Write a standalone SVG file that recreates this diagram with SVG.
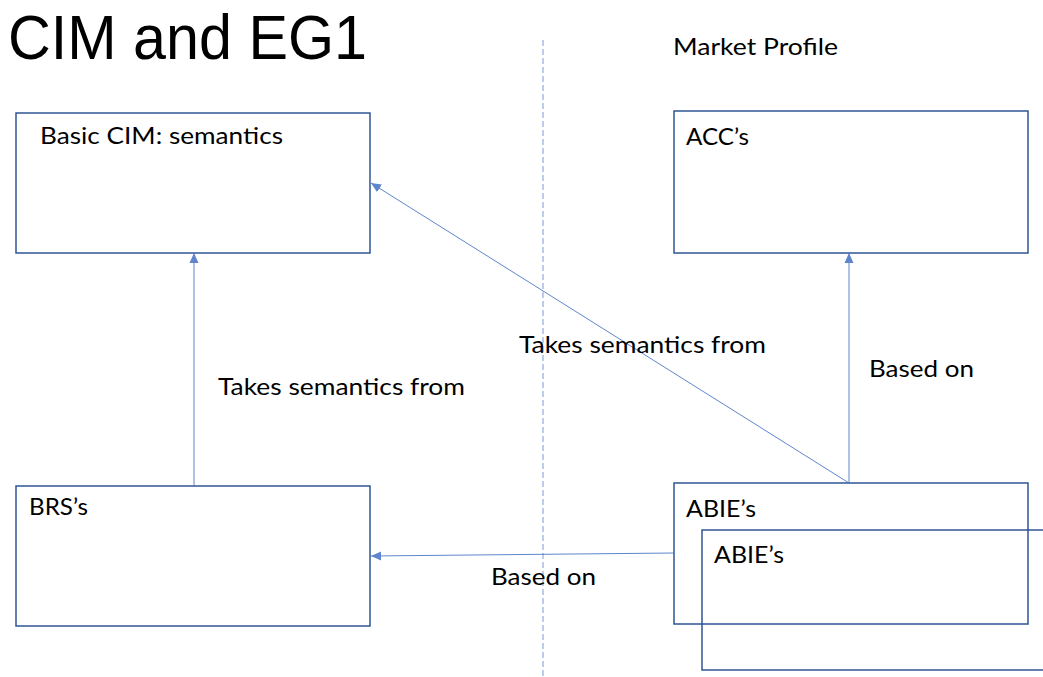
<svg xmlns="http://www.w3.org/2000/svg" width="1043" height="677" viewBox="0 0 1043 677">
<style>
.box{fill:none;stroke:#2F5597;stroke-width:1.5}
.conn{fill:none;stroke:#4472C4;stroke-width:1;opacity:0.85}
.lbl{font-family:Lato,"Open Sans","Liberation Sans",sans-serif;font-size:23px;fill:#000}
.title{font-family:"Liberation Sans",Arial,sans-serif;font-size:63px;fill:#000}
.div{stroke:#8FAADC;stroke-width:1.2;stroke-dasharray:6 3;fill:none}
</style>
<defs>
<marker id="ah" markerUnits="userSpaceOnUse" markerWidth="10" markerHeight="10" viewBox="0 0 10 10" refX="10" refY="5" orient="auto">
<path d="M0,0.5 L10,5 L0,9.5 Z" fill="#4472C4"/>
</marker>
</defs>
<rect width="1043" height="677" fill="#fff"/>
<text class="title" x="8" y="59" textLength="359" lengthAdjust="spacingAndGlyphs">CIM and EG1</text>
<line class="div" x1="543" y1="40" x2="543" y2="677"/>
<text class="lbl" x="673" y="55" textLength="165" lengthAdjust="spacingAndGlyphs">Market Profile</text>
<g id="basic-cim">
<rect class="box" x="16" y="113" width="354" height="140"/>
<text class="lbl" x="40" y="144" textLength="243" lengthAdjust="spacingAndGlyphs">Basic CIM: semantics</text>
</g>
<g id="accs">
<rect class="box" x="674" y="111" width="354" height="142"/>
<text class="lbl" x="686" y="145" textLength="63" lengthAdjust="spacingAndGlyphs">ACC’s</text>
</g>
<g id="brss">
<rect class="box" x="16" y="486" width="354" height="140"/>
<text class="lbl" x="29" y="515" textLength="59" lengthAdjust="spacingAndGlyphs">BRS’s</text>
</g>
<g id="abies">
<rect class="box" x="674" y="483" width="354" height="141"/>
<text class="lbl" x="686" y="517" textLength="70" lengthAdjust="spacingAndGlyphs">ABIE’s</text>
</g>
<g id="abies-inner">
<rect class="box" x="702" y="530" width="360" height="140"/>
<text class="lbl" x="714" y="563" textLength="70" lengthAdjust="spacingAndGlyphs">ABIE’s</text>
</g>
<g id="connectors">
<line class="conn" x1="194" y1="486" x2="194" y2="253" marker-end="url(#ah)"/>
<line class="conn" x1="849" y1="483" x2="849" y2="253" marker-end="url(#ah)"/>
<line class="conn" x1="849" y1="483" x2="371" y2="183" marker-end="url(#ah)"/>
<line class="conn" x1="674" y1="553" x2="371" y2="556" marker-end="url(#ah)"/>
<text class="lbl" x="218" y="395" textLength="247" lengthAdjust="spacingAndGlyphs">Takes semantics from</text>
<text class="lbl" x="519" y="353" textLength="247" lengthAdjust="spacingAndGlyphs">Takes semantics from</text>
<text class="lbl" x="869" y="377" textLength="105" lengthAdjust="spacingAndGlyphs">Based on</text>
<text class="lbl" x="491" y="585" textLength="105" lengthAdjust="spacingAndGlyphs">Based on</text>
</g>
</svg>
